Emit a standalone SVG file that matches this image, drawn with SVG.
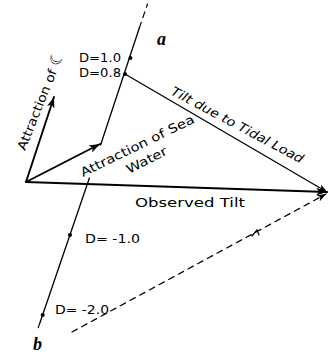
<svg xmlns="http://www.w3.org/2000/svg" width="330" height="354" viewBox="0 0 330 354">
<style>
.ln{stroke:#000;fill:none;stroke-linecap:round}
.thick{stroke-width:2.2}
.mid{stroke-width:1.9}
.thin{stroke-width:1.3}
.dash{stroke-width:1.2;stroke-dasharray:6 5}
.t{font-family:"DejaVu Sans","Liberation Sans",sans-serif;font-size:12.5px;fill:#000}
.it{font-style:italic}
.ab{font-family:"Liberation Serif","DejaVu Serif",serif;font-style:italic;font-weight:bold;font-size:18px;fill:#000}
.dot{fill:#000}
</style>
<defs>
<marker id="ah" markerUnits="userSpaceOnUse" markerWidth="12" markerHeight="8" refX="11" refY="4" orient="auto">
<path d="M0,0 L11,4 L0,8 L3,4 z" fill="#000"/>
</marker>
<marker id="ahs" markerUnits="userSpaceOnUse" markerWidth="10" markerHeight="7" refX="9" refY="3.5" orient="auto">
<path d="M0,0 L9,3.5 L0,7 L2.5,3.5 z" fill="#000"/>
</marker>
</defs>
<g id="connectors">
<line id="observed-tilt" class="ln thick" x1="26" y1="182" x2="327" y2="192" marker-end="url(#ah)"/>
<line id="moon-attraction" class="ln mid" x1="26" y1="182" x2="54" y2="97" marker-end="url(#ah)"/>
<line id="sea-attraction" class="ln mid" x1="26" y1="182" x2="100" y2="144" marker-end="url(#ah)"/>
<line id="ab-line-upper" class="ln thin" x1="139.3" y1="28" x2="100.6" y2="145"/>
<line id="ab-line-lower" class="ln thin" x1="89.4" y1="178" x2="40.2" y2="322"/>
<line id="ab-ext-top" class="ln dash" x1="139.3" y1="28" x2="147.5" y2="4"/>
<line id="ab-ext-bot" class="ln dash" x1="40.2" y1="322" x2="37" y2="331" stroke-dasharray="3 3"/>
<line id="tidal-tilt" class="ln thin" x1="125" y1="74" x2="327" y2="192" marker-end="url(#ahs)"/>
<line id="dashed-closure" class="ln dash" x1="72" y1="332" x2="326" y2="194" marker-end="url(#ahs)"/>
<path id="dashed-mark" class="ln" stroke-width="1.2" d="M252,236 L257,230 L259,235"/>
</g>
<g id="point-D1.0"><circle class="dot" cx="130.4" cy="58" r="2"/><text class="t" x="79" y="62" textLength="42" lengthAdjust="spacingAndGlyphs">D=1.0</text></g>
<g id="point-D0.8"><circle class="dot" cx="125" cy="74" r="2"/><text class="t" x="79" y="77" textLength="42" lengthAdjust="spacingAndGlyphs">D=0.8</text></g>
<g id="point-Dm1.0"><circle class="dot" cx="70" cy="235" r="2"/><text class="t" x="85" y="243" textLength="55" lengthAdjust="spacingAndGlyphs">D= -1.0</text></g>
<g id="point-Dm2.0"><circle class="dot" cx="42.7" cy="315" r="2"/><text class="t" x="55" y="314" textLength="54" lengthAdjust="spacingAndGlyphs">D= -2.0</text></g>
<g id="label-a"><text class="ab" x="157" y="45">a</text></g>
<g id="label-b"><text class="ab" x="33" y="350">b</text></g>
<g id="label-observed"><text class="t" font-size="13" x="135" y="207" textLength="110" lengthAdjust="spacingAndGlyphs">Observed Tilt</text></g>
<g id="label-moon"><text class="t" font-size="13" transform="translate(25,151) rotate(-68)" x="0" y="0" textLength="106" lengthAdjust="spacingAndGlyphs">Attraction of <tspan font-size="16">☾</tspan></text></g>
<g id="label-sea">
<text class="t" font-size="13" transform="translate(83,177) rotate(-26)" x="0" y="0" textLength="125" lengthAdjust="spacingAndGlyphs">Attraction of Sea</text>
<text class="t" font-size="13" transform="translate(129,174) rotate(-27)" x="0" y="0" textLength="44" lengthAdjust="spacingAndGlyphs">Water</text>
</g>
<g id="label-tidal"><text class="t it" font-size="12.5" transform="translate(170,94) rotate(28)" x="0" y="0" textLength="148" lengthAdjust="spacingAndGlyphs">Tilt due to Tidal Load</text></g>
</svg>
